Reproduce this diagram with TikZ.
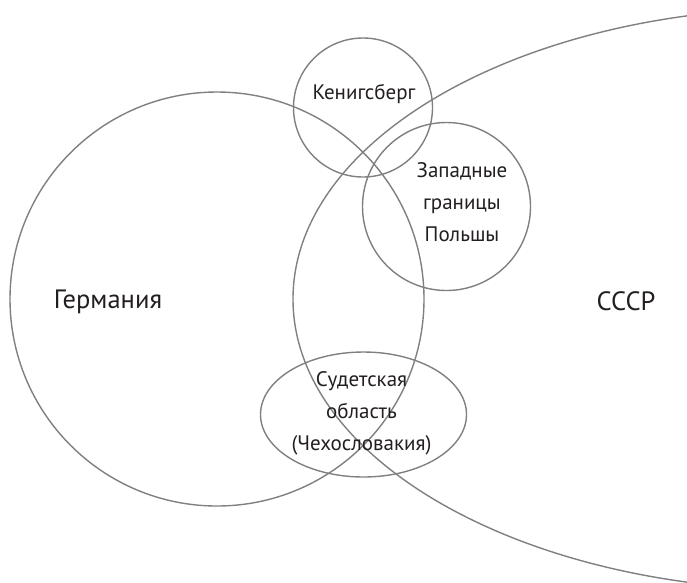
\documentclass[tikz,border=0pt]{standalone}
\usepackage{fontspec}
\setmainfont{PT Sans}
\definecolor{linegray}{RGB}{128,128,130}
\definecolor{txt}{RGB}{35,31,32}
\begin{document}
\begin{tikzpicture}[x=1pt,y=-1pt,
  region/.style={draw=linegray,line width=1.4pt},
  bigtxt/.style={text=txt,font=\fontsize{26.5}{30}\selectfont,inner sep=0pt},
  smalltxt/.style={text=txt,font=\fontsize{21}{32}\selectfont,align=center,inner sep=0pt}]
\useasboundingbox (0,0) rectangle (687,582);
\clip (0,0) rectangle (687,582);
\fill[white] (0,0) rectangle (687,582);
% USSR
\draw[region] (806,299) ellipse [x radius=513pt, y radius=291pt];
% Germany
\draw[region] (217,299) circle [radius=207pt];
% Koenigsberg
\draw[region] (363,107.5) circle [radius=69.5pt];
% Poland
\draw[region] (446.5,206.5) circle [radius=84pt];
% Sudetenland
\draw[region] (363.5,414.5) ellipse [x radius=103pt, y radius=62.5pt];
% labels
\node[bigtxt] (ger) at (108,302) {Германия};
\node[bigtxt] (ussr) at (626,301) {СССР};
\node[smalltxt] (kon) at (364,94) {Кенигсберг};
\node[smalltxt] (pol) at (462,202) {Западные\\границы\\Польшы};
\node[smalltxt] (sud) at (361.5,413) {Судетская\\область\\(Чехословакия)};
\end{tikzpicture}
\end{document}
